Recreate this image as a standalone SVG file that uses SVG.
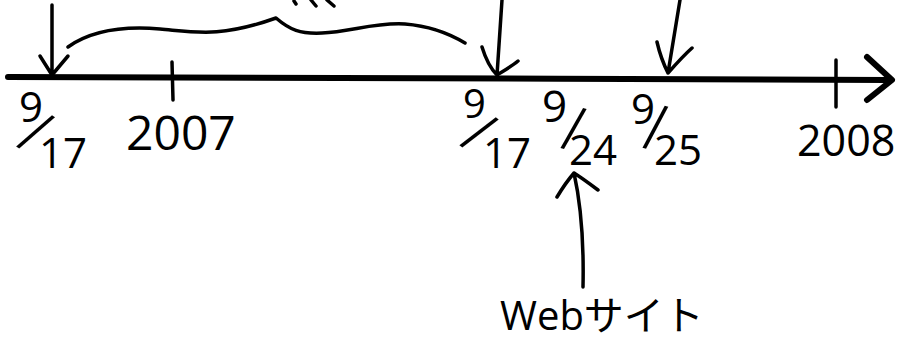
<svg xmlns="http://www.w3.org/2000/svg" width="904" height="343" viewBox="0 0 904 343">
<style>
.ink{fill:none;stroke:#000;stroke-linecap:round;stroke-linejoin:round}
.axis{stroke-width:6}
.arr{stroke-width:3.5}
.tick{stroke-width:3.5}
.t{font-family:"Open Sans","Noto Sans CJK JP",sans-serif;font-weight:400;fill:#000}
.s{font-family:"Open Sans",sans-serif;font-weight:400;fill:#000;font-size:46px;text-anchor:middle;dominant-baseline:central}
</style>
<rect width="904" height="343" fill="#fff"/>
<g id="connectors">
  <path class="ink axis" d="M8,77 C200,79 600,78 888,80"/>
  <path class="ink axis" d="M867,57 L892,80 L867,100"/>
  <path class="ink arr" d="M52,5 L52,75 M40,56 L52,75 L68,56"/>
  <path class="ink arr" d="M502,0 L497,75 M482,47 C486,60 490,68 497,75 C505,70 512,66 518,61"/>
  <path class="ink arr" d="M680,0 L668,73 M657,42 C660,55 664,65 668,73 C676,64 684,55 692,48"/>
  <path class="ink arr" d="M583,287 C584,240 580,200 574,173 M557,197 C563,187 568,180 574,173 C582,178 590,184 598,190"/>
  <path class="ink arr" d="M68,47 C92,30 125,26 160,29 C195,32 220,38 276,18 C290,30 300,34 322,33 C350,32 375,22 405,24 C430,26 450,34 465,43"/>
  <path class="ink" stroke-width="3.5" d="M294,1 L296,4 M311,0 L316,6 M327,0 L334,6"/>
</g>
<g id="tick-2007">
  <path class="ink tick" d="M172,62 L173,100"/>
  <text class="t" x="126" y="150" font-size="48">2007</text>
</g>
<g id="tick-2008">
  <path class="ink tick" d="M836,60 L836,107"/>
  <text class="t" x="797" y="156" font-size="43">2008</text>
</g>
<g id="date-0917-a">
  <text class="t" x="19" y="122" font-size="42">9</text>
  <text class="s" transform="translate(37,130) rotate(34) scale(1,1.4)">/</text>
  <text class="t" x="39" y="168" font-size="42">17</text>
</g>
<g id="date-0917-b">
  <text class="t" x="463" y="118" font-size="40">9</text>
  <text class="s" transform="translate(480,131) rotate(37) scale(1,1.35)">/</text>
  <text class="t" x="483" y="168" font-size="42">17</text>
</g>
<g id="date-0924">
  <text class="t" x="542" y="122" font-size="44">9</text>
  <text class="s" transform="translate(574,127) rotate(14) scale(1,1.35)">/</text>
  <text class="t" x="569" y="165" font-size="42">24</text>
</g>
<g id="date-0925">
  <text class="t" x="631" y="124" font-size="42">9</text>
  <text class="s" transform="translate(656,125) rotate(13) scale(1,1.4)">/</text>
  <text class="t" x="654" y="165" font-size="42">25</text>
</g>
<g id="website">
  <text class="t" x="500" y="330" font-size="40">Webサイト</text>
</g>
</svg>
